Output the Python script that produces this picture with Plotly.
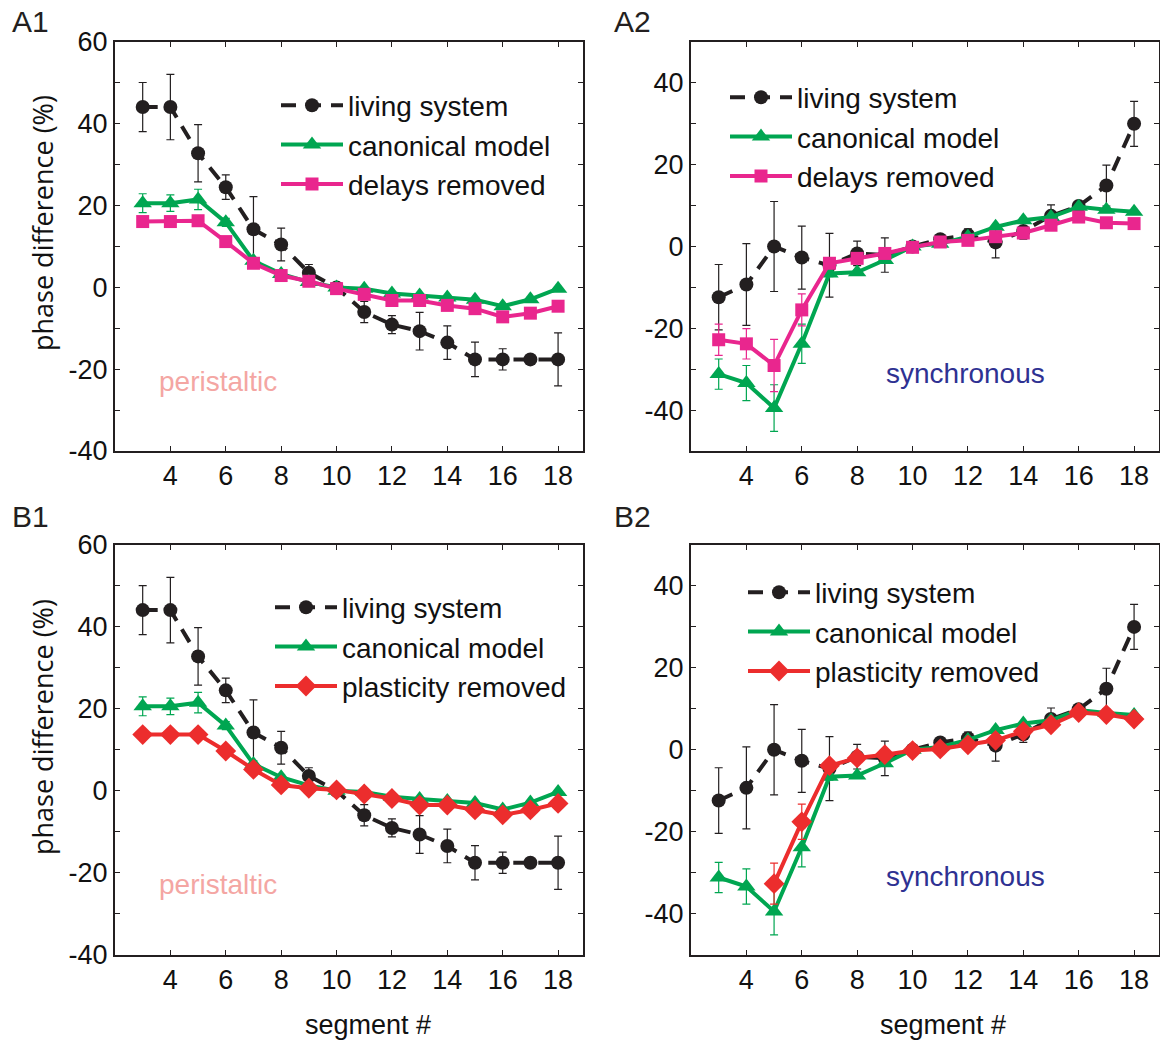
import plotly.graph_objects as go

# ---- data -------------------------------------------------------------
segments = list(range(3, 19))

# peristaltic mode (panels A1, B1)
peri_living = [44.1, 44.1, 32.8, 24.5, 14.2, 10.5, 3.6, 0.0, -6.0, -9.1, -10.7, -13.5, -17.6, -17.6, -17.6, -17.6]
peri_living_err = [6.0, 8.0, 7.0, 3.0, 8.0, 4.0, 2.0, 0.5, 2.6, 2.2, 4.6, 4.1, 4.2, 2.6, 0.8, 6.5]
peri_canonical = [20.6, 20.6, 21.5, 15.9, 6.5, 3.3, 1.3, 0.0, -0.3, -1.5, -2.0, -2.5, -3.0, -4.6, -2.9, -0.3]
peri_canonical_err = [2.3, 2.0, 2.5, 1.0, 0.8, 0.5, 0.5, 0.3, 0.3, 0.3, 0.3, 0.3, 0.3, 0.3, 0.3, 0.3]
peri_delays = [16.1, 16.1, 16.3, 11.2, 5.9, 2.9, 1.5, -0.3, -1.7, -3.2, -3.2, -4.4, -5.2, -7.2, -6.3, -4.6]
peri_delays_err = [0.5, 0.5, 0.5, 0.5, 0.5, 0.5, 0.3, 0.3, 0.3, 0.3, 0.3, 0.3, 0.3, 0.3, 0.3, 0.3]
peri_plastic = [13.7, 13.7, 13.7, 9.7, 5.2, 1.4, 0.6, 0.2, -0.8, -1.9, -3.5, -3.5, -4.7, -5.9, -4.7, -3.1]
peri_plastic_err = [0.5, 0.5, 0.5, 0.5, 0.5, 0.5, 0.3, 0.3, 0.3, 0.3, 0.3, 0.3, 0.3, 0.3, 0.3, 0.3]

# synchronous mode (panels A2, B2)
sync_living = [-12.4, -9.3, 0.0, -2.7, -4.6, -1.7, -2.1, 0.0, 1.8, 2.8, 1.0, 3.8, 7.5, 9.9, 14.9, 30.0]
sync_living_err = [8.0, 10.0, 11.0, 7.7, 7.8, 3.0, 4.2, 0.5, 1.0, 1.5, 3.8, 2.0, 2.7, 1.0, 5.0, 5.5]
sync_canonical = [-31.2, -33.4, -39.5, -23.8, -6.6, -6.3, -3.3, 0.0, 0.7, 2.4, 4.8, 6.4, 7.2, 9.7, 9.0, 8.5]
sync_canonical_err = [3.7, 4.3, 5.7, 4.8, 0.8, 0.5, 0.5, 0.3, 0.3, 0.3, 0.3, 0.3, 0.3, 0.3, 0.3, 0.3]
sync_delays = [-22.8, -23.8, -29.1, -15.5, -4.1, -2.9, -1.7, -0.2, 1.1, 1.5, 2.4, 3.3, 5.2, 7.2, 5.8, 5.6]
sync_delays_err = [3.8, 3.7, 6.4, 3.9, 0.5, 0.5, 0.3, 0.3, 0.3, 0.3, 0.3, 0.3, 0.3, 0.3, 0.3, 0.3]
sync_plastic_segments = list(range(5, 19))
sync_plastic = [-32.7, -17.6, -3.9, -2.0, -1.2, -0.2, 0.2, 1.2, 2.3, 4.5, 6.1, 9.1, 8.6, 7.5]
sync_plastic_err = [5.0, 4.3, 0.5, 0.5, 0.3, 0.3, 0.3, 0.3, 0.3, 0.3, 0.3, 0.3, 0.3, 0.3]

x_ticks = [4, 6, 8, 10, 12, 14, 16, 18]
peri_y_ticks = [-40, -30, -20, -10, 0, 10, 20, 30, 40, 50, 60]
sync_y_ticks = [-40, -30, -20, -10, 0, 10, 20, 30, 40]

# ---- styling ----------------------------------------------------------
FONT = "Liberation Sans, Arial, sans-serif"
BLACK = "#231f20"
GREEN = "#00a651"
PINK = "#e9268e"
RED = "#ec2d2d"
TEXT = "#111111"

fig = go.Figure()

axes = {
    "A1": ("x", "y", "legend"),
    "A2": ("x2", "y2", "legend2"),
    "B1": ("x3", "y3", "legend3"),
    "B2": ("x4", "y4", "legend4"),
}


def add_series(panel, xs, ys, err, name, color, symbol, size, dash="solid"):
    xa, ya, leg = axes[panel]
    fig.add_trace(go.Scatter(
        x=xs, y=ys, name=name, mode="lines+markers",
        xaxis=xa, yaxis=ya, legend=leg,
        line=dict(color=color, width=4, dash=dash),
        marker=dict(color=color, symbol=symbol, size=size, line=dict(width=0)),
        error_y=dict(type="data", array=err, visible=True, color=color,
                     thickness=1.2, width=4),
    ))


LIVING_DASH = "15px,10px"

# A1: delays removed, peristaltic
add_series("A1", segments, peri_living, peri_living_err, "living system", BLACK, "circle", 14, LIVING_DASH)
add_series("A1", segments, peri_canonical, peri_canonical_err, "canonical model", GREEN, "triangle-up", 16)
add_series("A1", segments, peri_delays, peri_delays_err, "delays removed", PINK, "square", 13)
# A2: delays removed, synchronous
add_series("A2", segments, sync_living, sync_living_err, "living system", BLACK, "circle", 14, LIVING_DASH)
add_series("A2", segments, sync_canonical, sync_canonical_err, "canonical model", GREEN, "triangle-up", 16)
add_series("A2", segments, sync_delays, sync_delays_err, "delays removed", PINK, "square", 13)
# B1: plasticity removed, peristaltic
add_series("B1", segments, peri_living, peri_living_err, "living system", BLACK, "circle", 14, LIVING_DASH)
add_series("B1", segments, peri_canonical, peri_canonical_err, "canonical model", GREEN, "triangle-up", 16)
add_series("B1", segments, peri_plastic, peri_plastic_err, "plasticity removed", RED, "diamond", 16)
# B2: plasticity removed, synchronous
add_series("B2", segments, sync_living, sync_living_err, "living system", BLACK, "circle", 14, LIVING_DASH)
add_series("B2", segments, sync_canonical, sync_canonical_err, "canonical model", GREEN, "triangle-up", 16)
add_series("B2", sync_plastic_segments, sync_plastic, sync_plastic_err, "plasticity removed", RED, "diamond", 16)

W, H = 1160, 1042
left_dom = [115 / W, 583 / W]
right_dom = [691 / W, 1159 / W]
top_dom = [1 - 451 / H, 1 - 42 / H]
bot_dom = [1 - 954.5 / H, 1 - 545 / H]


def ticktext(vals):
    return [str(v) if v % 20 == 0 else "" for v in vals]


tickfont = dict(family=FONT, size=27, color=TEXT)
xcommon = dict(range=[2, 18.9], tickvals=x_ticks, ticks="inside", ticklen=5,
               tickwidth=1, tickcolor=BLACK, mirror="allticks", showline=True,
               linecolor=BLACK, linewidth=2, showgrid=False, zeroline=False,
               tickfont=tickfont)
ycommon = dict(ticks="inside", ticklen=5, tickwidth=1, tickcolor=BLACK,
               mirror="allticks", showline=True, linecolor=BLACK, linewidth=2,
               showgrid=False, zeroline=False, tickfont=tickfont)

fig.update_layout(
    width=W, height=H, margin=dict(l=0, r=0, t=0, b=0, autoexpand=False),
    paper_bgcolor="white", plot_bgcolor="white",
    font=dict(family=FONT, size=24, color=TEXT),
    xaxis=dict(domain=left_dom, anchor="y", **xcommon),
    yaxis=dict(domain=top_dom, anchor="x", range=[-40, 60], tickvals=peri_y_ticks,
               ticktext=ticktext(peri_y_ticks), **ycommon),
    xaxis2=dict(domain=right_dom, anchor="y2", **xcommon),
    yaxis2=dict(domain=top_dom, anchor="x2", range=[-50, 50], tickvals=sync_y_ticks,
                ticktext=ticktext(sync_y_ticks), **ycommon),
    xaxis3=dict(domain=left_dom, anchor="y3", **xcommon),
    yaxis3=dict(domain=bot_dom, anchor="x3", range=[-40, 60], tickvals=peri_y_ticks,
                ticktext=ticktext(peri_y_ticks), **ycommon),
    xaxis4=dict(domain=right_dom, anchor="y4", **xcommon),
    yaxis4=dict(domain=bot_dom, anchor="x4", range=[-50, 50], tickvals=sync_y_ticks,
                ticktext=ticktext(sync_y_ticks), **ycommon),
)

legend_style = dict(bgcolor="rgba(0,0,0,0)", borderwidth=0, xanchor="left",
                    yanchor="middle", itemwidth=62, tracegroupgap=0,
                    font=dict(family=FONT, size=28, color=TEXT))
fig.update_layout(
    legend=dict(x=276 / W, y=1 - 145 / H, **legend_style),
    legend2=dict(x=725 / W, y=1 - 137 / H, **legend_style),
    legend3=dict(x=270 / W, y=1 - 647 / H, **legend_style),
    legend4=dict(x=743 / W, y=1 - 632 / H, **legend_style),
)

# mode labels inside panels
mode_labels = [("x", "y", 5.72, -22.9, "peristaltic", "#f4a6a3"),
               ("x2", "y2", 11.9, -31.0, "synchronous", "#2e3192"),
               ("x3", "y3", 5.72, -22.9, "peristaltic", "#f4a6a3"),
               ("x4", "y4", 11.9, -31.0, "synchronous", "#2e3192")]
for xr, yr, lx, ly, txt, col in mode_labels:
    fig.add_annotation(x=lx, y=ly, xref=xr, yref=yr, text=txt, showarrow=False,
                       font=dict(family=FONT, size=28, color=col))

# panel letters
for label, px, py in [("A1", 10, 21), ("A2", 612, 21), ("B1", 10, 516), ("B2", 612, 516)]:
    fig.add_annotation(x=px / W, y=1 - py / H, xref="paper", yref="paper", text=label,
                       showarrow=False, xanchor="left", yanchor="middle",
                       font=dict(family=FONT, size=30, color=BLACK))

# axis titles
for py in [223, 727]:
    fig.add_annotation(x=42 / W, y=1 - py / H, xref="paper", yref="paper",
                       text="phase difference (%)", showarrow=False, textangle=-90,
                       xanchor="center", yanchor="middle",
                       font=dict(family="Open Sans, sans-serif", size=27, color=TEXT))
for px in [368, 943]:
    fig.add_annotation(x=px / W, y=1 - 1025 / H, xref="paper", yref="paper",
                       text="segment #", showarrow=False, xanchor="center", yanchor="middle",
                       font=dict(family=FONT, size=27, color=TEXT))

fig.write_html("out.html")
